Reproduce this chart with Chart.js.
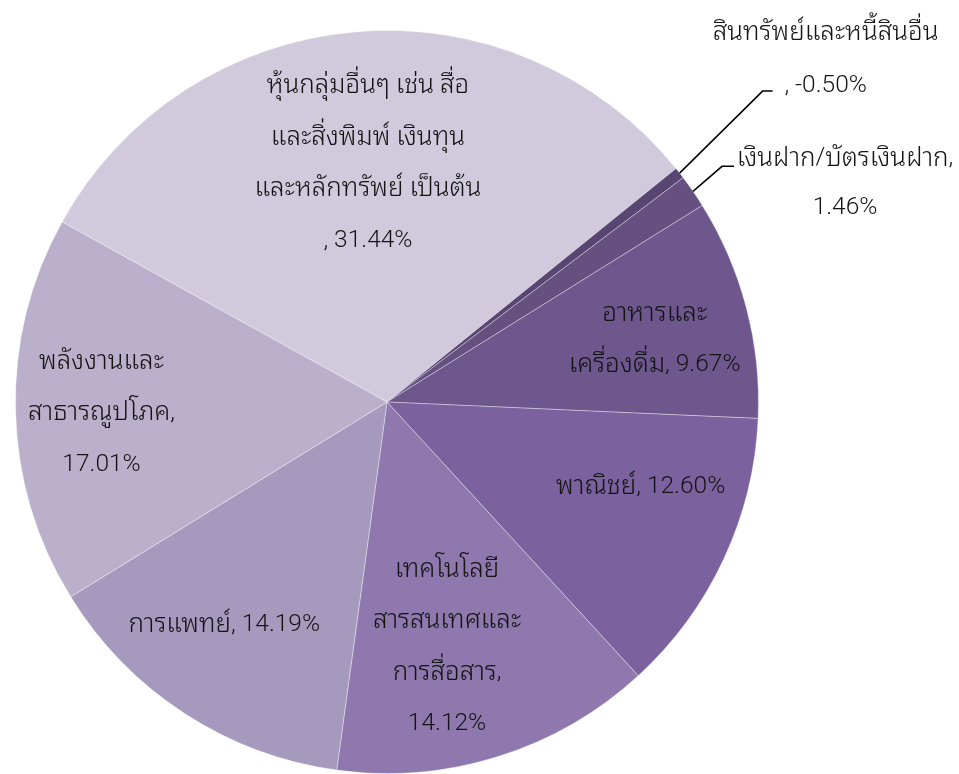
<!DOCTYPE html>
<html>
<head>
<meta charset="utf-8">
<script src="https://cdn.jsdelivr.net/npm/chart.js@4/dist/chart.umd.min.js"></script>
<style>
  html, body { margin: 0; padding: 0; background: #ffffff; }
  #c { display: block; }
</style>
</head>
<body>
<canvas id="c" width="959" height="774"></canvas>
<script>
// Portfolio breakdown by sector (share of fund, %)
const categories = [
  'หุ้นกลุ่มอื่นๆ เช่น สื่อและสิ่งพิมพ์ เงินทุนและหลักทรัพย์ เป็นต้น',
  'สินทรัพย์และหนี้สินอื่น',
  'เงินฝาก/บัตรเงินฝาก',
  'อาหารและเครื่องดื่ม',
  'พาณิชย์',
  'เทคโนโลยีสารสนเทศและการสื่อสาร',
  'การแพทย์',
  'พลังงานและสาธารณูปโภค'
];
const shares = [31.44, -0.50, 1.46, 9.67, 12.60, 14.12, 14.19, 17.01];

// Wrapped label text for each slice; {v} is replaced by the formatted share
const labelLines = [
  ['หุ้นกลุ่มอื่นๆ เช่น สื่อ', 'และสิ่งพิมพ์ เงินทุน', 'และหลักทรัพย์ เป็นต้น', ', {v}'],
  ['สินทรัพย์และหนี้สินอื่น', ', {v}'],
  ['เงินฝาก/บัตรเงินฝาก,', '{v}'],
  ['อาหารและ', 'เครื่องดื่ม, {v}'],
  ['พาณิชย์, {v}'],
  ['เทคโนโลยี', 'สารสนเทศและ', 'การสื่อสาร,', '{v}'],
  ['การแพทย์, {v}'],
  ['พลังงานและ', 'สาธารณูปโภค,', '{v}']
];

const sliceColors = ['#D0CADC', '#584571', '#65507F', '#6D578D', '#7B619D', '#8E78AD', '#A699BE', '#BBB0CC'];

// Label placement: inside labels sit at a fraction of the radius, with a small angle tweak (deg);
// outside labels use a leader line with an elbow and a text block to its right.
const labelPlacement = [
  { inside: true, frac: 0.645, da: 0.4 },
  { inside: false, elbow: [83, -82], tail: 10, textX: 146, textY: [-140, -87] },
  { inside: false, elbow: [29, -25], tail: 12, textX: 152, textY: [-33, 17] },
  { inside: true, frac: 0.74, da: 1.5 },
  { inside: true, frac: 0.72, da: -6.5 },
  { inside: true, frac: 0.678, da: 3.6 },
  { inside: true, frac: 0.742, da: 3.1 },
  { inside: true, frac: 0.769, da: -0.9 }
];

// Latin/digit runs and Thai runs use different faces and sizes
const LATIN_FONT = '300 24.5px Roboto, "Liberation Sans", Arial, sans-serif';
const THAI_FONT = '300 26px "Noto Sans Thai Looped", "Noto Sans Thai", Loma, Garuda, Tahoma, sans-serif';
const LINE_H = 51.5;
const TEXT_COLOR = '#141414';

const fmt = v => v.toFixed(2) + '%';

function splitRuns(text) {
  const runs = [];
  const re = /[\u0E00-\u0E7F]+|[^\u0E00-\u0E7F]+/g;
  let m;
  while ((m = re.exec(text)) !== null) {
    runs.push({ text: m[0], thai: /[\u0E00-\u0E7F]/.test(m[0]) });
  }
  return runs;
}

function drawMixed(ctx, text, cx, cy) {
  const runs = splitRuns(text);
  let total = 0;
  runs.forEach(r => {
    ctx.font = r.thai ? THAI_FONT : LATIN_FONT;
    r.w = ctx.measureText(r.text).width;
    total += r.w;
  });
  let x = cx - total / 2;
  ctx.textAlign = 'left';
  runs.forEach(r => {
    ctx.font = r.thai ? THAI_FONT : LATIN_FONT;
    ctx.fillText(r.text, x, cy);
    x += r.w;
  });
}

const sliceLabels = {
  id: 'sliceLabels',
  afterDraw(chart) {
    const ctx = chart.ctx;
    const meta = chart.getDatasetMeta(0);
    ctx.save();
    ctx.fillStyle = TEXT_COLOR;
    ctx.textBaseline = 'middle';
    meta.data.forEach((arc, i) => {
      const p = arc.getProps(['x', 'y', 'startAngle', 'endAngle', 'outerRadius'], true);
      const mid = (p.startAngle + p.endAngle) / 2;
      const lines = labelLines[i].map(s => s.replace('{v}', fmt(shares[i])));
      const place = labelPlacement[i];
      if (place.inside) {
        const a = mid + place.da * Math.PI / 180;
        const r = p.outerRadius * place.frac;
        const cx = p.x + Math.cos(a) * r;
        const cy = p.y + Math.sin(a) * r;
        const top = cy - (lines.length - 1) * LINE_H / 2;
        lines.forEach((t, k) => drawMixed(ctx, t, cx, top + k * LINE_H));
      } else {
        const ax = p.x + Math.cos(mid) * p.outerRadius;
        const ay = p.y + Math.sin(mid) * p.outerRadius;
        const ex = ax + place.elbow[0];
        const ey = ay + place.elbow[1];
        ctx.beginPath();
        ctx.strokeStyle = '#000000';
        ctx.lineWidth = 1.5;
        ctx.moveTo(ax, ay);
        ctx.lineTo(ex, ey);
        ctx.lineTo(ex + place.tail, ey);
        ctx.stroke();
        lines.forEach((t, k) => drawMixed(ctx, t, ax + place.textX, ay + place.textY[k]));
      }
    });
    ctx.restore();
  }
};

new Chart(document.getElementById('c'), {
  type: 'pie',
  data: {
    labels: categories,
    datasets: [{
      data: shares,
      backgroundColor: sliceColors,
      borderColor: 'rgba(255,255,255,0.35)',
      borderWidth: 1
    }]
  },
  options: {
    responsive: false,
    animation: false,
    rotation: 299,
    layout: { padding: { left: 15, right: 200, top: 30, bottom: 0 } },
    plugins: { legend: { display: false }, tooltip: { enabled: false } }
  },
  plugins: [sliceLabels]
});
</script>
</body>
</html>
